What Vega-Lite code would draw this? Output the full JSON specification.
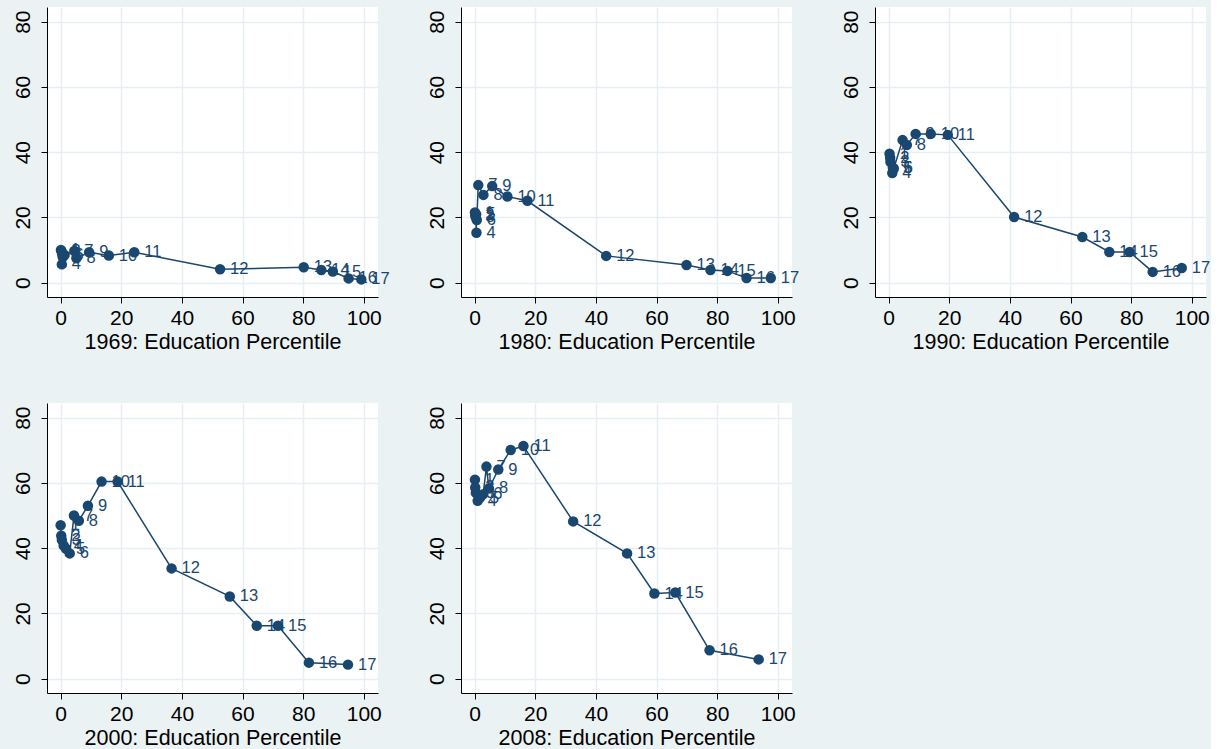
{
  "$schema": "https://vega.github.io/schema/vega-lite/v6.json",
  "background": "#EAF2F3",
  "padding": {"left": 11, "top": 7, "right": 0, "bottom": 0},
  "datasets": {
    "d": [
      {"year": 1969, "edu": 1, "x": 0.1, "y": 10.0},
      {"year": 1969, "edu": 2, "x": 0.3, "y": 9.6},
      {"year": 1969, "edu": 3, "x": 0.5, "y": 8.7},
      {"year": 1969, "edu": 4, "x": 0.4, "y": 5.6},
      {"year": 1969, "edu": 5, "x": 0.7, "y": 7.8},
      {"year": 1969, "edu": 6, "x": 1.3, "y": 8.5},
      {"year": 1969, "edu": 7, "x": 4.5, "y": 9.7},
      {"year": 1969, "edu": 8, "x": 5.2, "y": 7.5},
      {"year": 1969, "edu": 9, "x": 9.4, "y": 9.3},
      {"year": 1969, "edu": 10, "x": 15.9, "y": 8.3},
      {"year": 1969, "edu": 11, "x": 24.3, "y": 9.3},
      {"year": 1969, "edu": 12, "x": 52.6, "y": 4.1},
      {"year": 1969, "edu": 13, "x": 80.2, "y": 4.7},
      {"year": 1969, "edu": 14, "x": 86.0, "y": 3.9},
      {"year": 1969, "edu": 15, "x": 89.8, "y": 3.4},
      {"year": 1969, "edu": 16, "x": 95.0, "y": 1.3},
      {"year": 1969, "edu": 17, "x": 99.2, "y": 1.0},
      {"year": 1980, "edu": 1, "x": 0.1, "y": 21.5},
      {"year": 1980, "edu": 2, "x": 0.2, "y": 20.8},
      {"year": 1980, "edu": 3, "x": 0.3, "y": 20.2},
      {"year": 1980, "edu": 4, "x": 0.6, "y": 15.3},
      {"year": 1980, "edu": 5, "x": 0.5, "y": 21.0},
      {"year": 1980, "edu": 6, "x": 0.7, "y": 19.2},
      {"year": 1980, "edu": 7, "x": 1.2, "y": 29.9},
      {"year": 1980, "edu": 8, "x": 2.9, "y": 26.9},
      {"year": 1980, "edu": 9, "x": 5.8, "y": 29.6},
      {"year": 1980, "edu": 10, "x": 10.8, "y": 26.4},
      {"year": 1980, "edu": 11, "x": 17.4, "y": 25.1},
      {"year": 1980, "edu": 12, "x": 43.4, "y": 8.2},
      {"year": 1980, "edu": 13, "x": 69.9, "y": 5.4},
      {"year": 1980, "edu": 14, "x": 77.8, "y": 3.9},
      {"year": 1980, "edu": 15, "x": 83.4, "y": 3.6},
      {"year": 1980, "edu": 16, "x": 89.7, "y": 1.4},
      {"year": 1980, "edu": 17, "x": 97.7, "y": 1.4},
      {"year": 1990, "edu": 1, "x": 0.3, "y": 39.5},
      {"year": 1990, "edu": 2, "x": 0.5, "y": 38.3},
      {"year": 1990, "edu": 3, "x": 0.6, "y": 37.0},
      {"year": 1990, "edu": 4, "x": 1.2, "y": 33.6},
      {"year": 1990, "edu": 5, "x": 1.4, "y": 35.2},
      {"year": 1990, "edu": 6, "x": 1.7, "y": 35.0},
      {"year": 1990, "edu": 7, "x": 4.6, "y": 43.7},
      {"year": 1990, "edu": 8, "x": 6.0, "y": 42.2},
      {"year": 1990, "edu": 9, "x": 8.9, "y": 45.6},
      {"year": 1990, "edu": 10, "x": 13.9, "y": 45.6},
      {"year": 1990, "edu": 11, "x": 19.5, "y": 45.3},
      {"year": 1990, "edu": 12, "x": 41.4, "y": 20.1},
      {"year": 1990, "edu": 13, "x": 63.9, "y": 14.0},
      {"year": 1990, "edu": 14, "x": 72.8, "y": 9.4},
      {"year": 1990, "edu": 15, "x": 79.5, "y": 9.4},
      {"year": 1990, "edu": 16, "x": 87.1, "y": 3.3},
      {"year": 1990, "edu": 17, "x": 96.7, "y": 4.5},
      {"year": 2000, "edu": 1, "x": 0.0, "y": 47.0},
      {"year": 2000, "edu": 2, "x": 0.2, "y": 43.8},
      {"year": 2000, "edu": 3, "x": 0.4, "y": 42.5},
      {"year": 2000, "edu": 4, "x": 1.0, "y": 40.8},
      {"year": 2000, "edu": 5, "x": 1.8, "y": 39.8},
      {"year": 2000, "edu": 6, "x": 3.0, "y": 38.4},
      {"year": 2000, "edu": 7, "x": 4.4, "y": 50.0},
      {"year": 2000, "edu": 8, "x": 6.0, "y": 48.4},
      {"year": 2000, "edu": 9, "x": 9.0, "y": 53.0},
      {"year": 2000, "edu": 10, "x": 13.5, "y": 60.4},
      {"year": 2000, "edu": 11, "x": 18.8, "y": 60.4},
      {"year": 2000, "edu": 12, "x": 36.6, "y": 33.8},
      {"year": 2000, "edu": 13, "x": 55.8, "y": 25.2},
      {"year": 2000, "edu": 14, "x": 64.7, "y": 16.2},
      {"year": 2000, "edu": 15, "x": 71.7, "y": 16.2},
      {"year": 2000, "edu": 16, "x": 81.9, "y": 4.9},
      {"year": 2000, "edu": 17, "x": 94.8, "y": 4.3},
      {"year": 2008, "edu": 1, "x": 0.1, "y": 61.0},
      {"year": 2008, "edu": 2, "x": 0.2, "y": 58.6},
      {"year": 2008, "edu": 3, "x": 0.4, "y": 57.0},
      {"year": 2008, "edu": 4, "x": 1.0, "y": 54.5},
      {"year": 2008, "edu": 5, "x": 1.8, "y": 55.5},
      {"year": 2008, "edu": 6, "x": 2.8, "y": 56.5},
      {"year": 2008, "edu": 7, "x": 3.9, "y": 65.0},
      {"year": 2008, "edu": 8, "x": 4.7, "y": 58.3},
      {"year": 2008, "edu": 9, "x": 7.8, "y": 64.1},
      {"year": 2008, "edu": 10, "x": 11.9, "y": 70.1},
      {"year": 2008, "edu": 11, "x": 16.1, "y": 71.3},
      {"year": 2008, "edu": 12, "x": 32.5, "y": 48.2},
      {"year": 2008, "edu": 13, "x": 50.3, "y": 38.4},
      {"year": 2008, "edu": 14, "x": 59.3, "y": 26.1},
      {"year": 2008, "edu": 15, "x": 66.2, "y": 26.4},
      {"year": 2008, "edu": 16, "x": 77.5, "y": 8.7},
      {"year": 2008, "edu": 17, "x": 93.7, "y": 5.9}
    ]
  },
  "data": {"name": "d"},
  "bounds": "flush",
  "columns": 3,
  "spacing": {"row": 106, "column": 83},
  "concat": [
    {
      "width": 331, "height": 290,
      "transform": [{"filter": "datum.year == 1969"}],
      "encoding": {
        "x": {"field": "x", "type": "quantitative", "scale": {"domain": [-4.5, 104.7], "nice": false, "zero": false}, "axis": {"title": "1969: Education Percentile", "values": [0, 20, 40, 60, 80, 100]}},
        "y": {"field": "y", "type": "quantitative", "scale": {"domain": [-4.4, 84.5], "nice": false, "zero": false}, "axis": {"title": null, "values": [0, 20, 40, 60, 80]}}
      },
      "layer": [
        {"mark": {"type": "text", "align": "left", "baseline": "middle", "dx": 10, "fontSize": 16.5, "color": "#1A476F"}, "encoding": {"text": {"field": "edu", "type": "quantitative"}}},
        {"mark": {"type": "line", "color": "#1A476F", "strokeWidth": 1.5}, "encoding": {"order": {"field": "edu", "type": "quantitative"}}},
        {"mark": {"type": "point", "filled": true, "size": 110, "color": "#1A476F", "opacity": 1}}
      ]
    },
    {
      "width": 331, "height": 290,
      "transform": [{"filter": "datum.year == 1980"}],
      "encoding": {
        "x": {"field": "x", "type": "quantitative", "scale": {"domain": [-4.5, 104.7], "nice": false, "zero": false}, "axis": {"title": "1980: Education Percentile", "values": [0, 20, 40, 60, 80, 100]}},
        "y": {"field": "y", "type": "quantitative", "scale": {"domain": [-4.4, 84.5], "nice": false, "zero": false}, "axis": {"title": null, "values": [0, 20, 40, 60, 80]}}
      },
      "layer": [
        {"mark": {"type": "text", "align": "left", "baseline": "middle", "dx": 10, "fontSize": 16.5, "color": "#1A476F"}, "encoding": {"text": {"field": "edu", "type": "quantitative"}}},
        {"mark": {"type": "line", "color": "#1A476F", "strokeWidth": 1.5}, "encoding": {"order": {"field": "edu", "type": "quantitative"}}},
        {"mark": {"type": "point", "filled": true, "size": 110, "color": "#1A476F", "opacity": 1}}
      ]
    },
    {
      "width": 331, "height": 290,
      "transform": [{"filter": "datum.year == 1990"}],
      "encoding": {
        "x": {"field": "x", "type": "quantitative", "scale": {"domain": [-4.5, 104.7], "nice": false, "zero": false}, "axis": {"title": "1990: Education Percentile", "values": [0, 20, 40, 60, 80, 100]}},
        "y": {"field": "y", "type": "quantitative", "scale": {"domain": [-4.4, 84.5], "nice": false, "zero": false}, "axis": {"title": null, "values": [0, 20, 40, 60, 80]}}
      },
      "layer": [
        {"mark": {"type": "text", "align": "left", "baseline": "middle", "dx": 10, "fontSize": 16.5, "color": "#1A476F"}, "encoding": {"text": {"field": "edu", "type": "quantitative"}}},
        {"mark": {"type": "line", "color": "#1A476F", "strokeWidth": 1.5}, "encoding": {"order": {"field": "edu", "type": "quantitative"}}},
        {"mark": {"type": "point", "filled": true, "size": 110, "color": "#1A476F", "opacity": 1}}
      ]
    },
    {
      "width": 331, "height": 290,
      "transform": [{"filter": "datum.year == 2000"}],
      "encoding": {
        "x": {"field": "x", "type": "quantitative", "scale": {"domain": [-4.5, 104.7], "nice": false, "zero": false}, "axis": {"title": "2000: Education Percentile", "values": [0, 20, 40, 60, 80, 100]}},
        "y": {"field": "y", "type": "quantitative", "scale": {"domain": [-4.4, 84.5], "nice": false, "zero": false}, "axis": {"title": null, "values": [0, 20, 40, 60, 80]}}
      },
      "layer": [
        {"mark": {"type": "text", "align": "left", "baseline": "middle", "dx": 10, "fontSize": 16.5, "color": "#1A476F"}, "encoding": {"text": {"field": "edu", "type": "quantitative"}}},
        {"mark": {"type": "line", "color": "#1A476F", "strokeWidth": 1.5}, "encoding": {"order": {"field": "edu", "type": "quantitative"}}},
        {"mark": {"type": "point", "filled": true, "size": 110, "color": "#1A476F", "opacity": 1}}
      ]
    },
    {
      "width": 331, "height": 290,
      "transform": [{"filter": "datum.year == 2008"}],
      "encoding": {
        "x": {"field": "x", "type": "quantitative", "scale": {"domain": [-4.5, 104.7], "nice": false, "zero": false}, "axis": {"title": "2008: Education Percentile", "values": [0, 20, 40, 60, 80, 100]}},
        "y": {"field": "y", "type": "quantitative", "scale": {"domain": [-4.4, 84.5], "nice": false, "zero": false}, "axis": {"title": null, "values": [0, 20, 40, 60, 80]}}
      },
      "layer": [
        {"mark": {"type": "text", "align": "left", "baseline": "middle", "dx": 10, "fontSize": 16.5, "color": "#1A476F"}, "encoding": {"text": {"field": "edu", "type": "quantitative"}}},
        {"mark": {"type": "line", "color": "#1A476F", "strokeWidth": 1.5}, "encoding": {"order": {"field": "edu", "type": "quantitative"}}},
        {"mark": {"type": "point", "filled": true, "size": 110, "color": "#1A476F", "opacity": 1}}
      ]
    }
  ],
  "config": {
    "font": "Liberation Sans",
    "view": {"fill": "white", "stroke": null},
    "axis": {
      "domainColor": "#000000", "domainWidth": 1, "tickColor": "#000000", "tickSize": 6, "tickWidth": 1,
      "gridColor": "#E6EFF1", "gridWidth": 1.5,
      "labelFont": "Liberation Sans", "labelFontSize": 21, "labelColor": "#000000",
      "titleFont": "Liberation Sans", "titleFontSize": 21.5, "titleFontWeight": "normal", "titleColor": "#000000",
      "labelOverlap": false, "labelFlush": false
    },
    "axisX": {"labelPadding": 4, "titlePadding": 3},
    "axisY": {"labelAngle": 270, "labelAlign": "center", "labelBaseline": "alphabetic", "labelPadding": 12}
  }
}
